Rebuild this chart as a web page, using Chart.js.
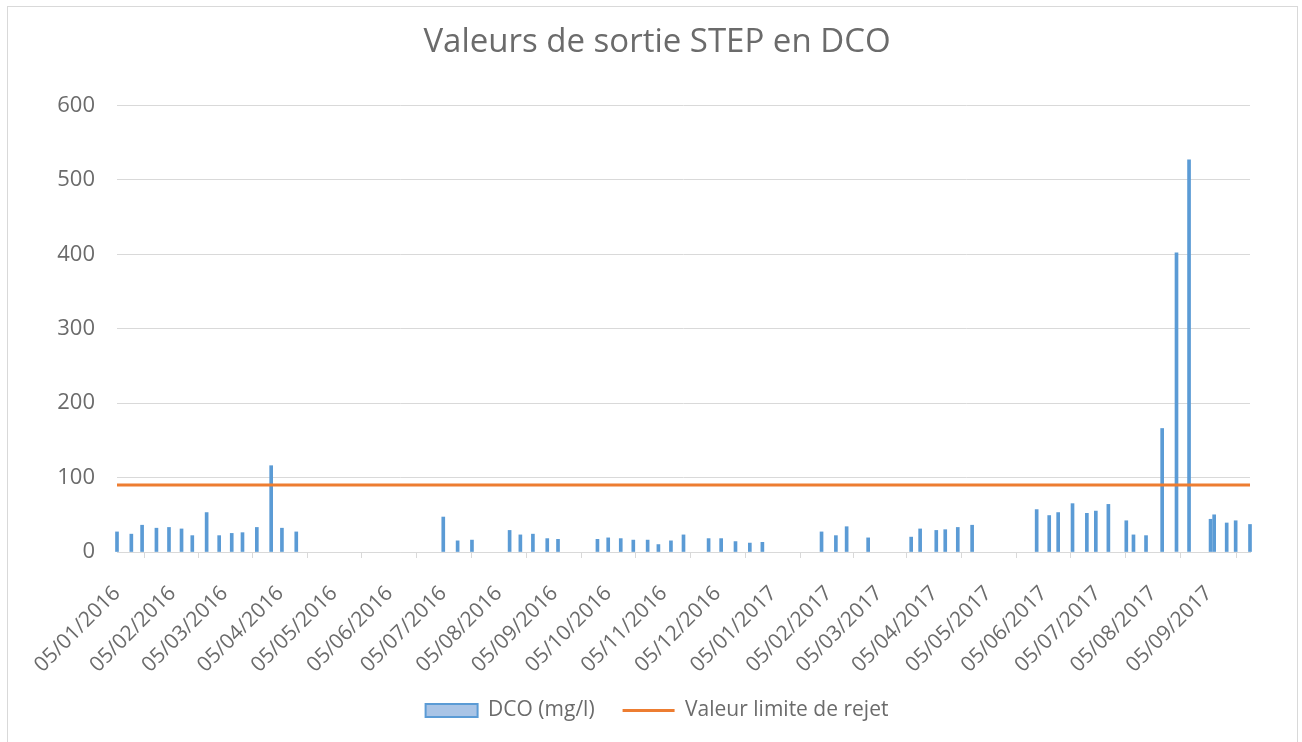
<!DOCTYPE html>
<html>
<head>
<meta charset="utf-8">
<script src="https://cdn.jsdelivr.net/npm/chart.js@4.4.1/dist/chart.umd.min.js"></script>
<style>
  body { margin: 0; background: #fff; }
  #cadre { position: absolute; left: 7px; top: 6px; width: 1291px; height: 745px; border: 1px solid #D9D9D9; box-sizing: border-box; }
  #wrap { position: absolute; left: 0; top: 0; width: 1302px; height: 742px; }
</style>
</head>
<body>
<div id="cadre"></div>
<div id="wrap"><canvas id="dco" width="1302" height="742"></canvas></div>
<script>
// dates des prélèvements (jj/mm/aaaa)
const datesPrelevement = [
  '05/01/2016','13/01/2016','19/01/2016','27/01/2016','03/02/2016','10/02/2016','16/02/2016','24/02/2016',
  '02/03/2016','09/03/2016','15/03/2016','23/03/2016','31/03/2016','06/04/2016','14/04/2016',
  '05/07/2016','13/07/2016','21/07/2016','11/08/2016','17/08/2016','24/08/2016','01/09/2016','07/09/2016',
  '29/09/2016','05/10/2016','12/10/2016','19/10/2016','27/10/2016','02/11/2016','09/11/2016','16/11/2016',
  '30/11/2016','07/12/2016','15/12/2016','23/12/2016','30/12/2016',
  '01/02/2017','09/02/2017','15/02/2017','27/02/2017','23/03/2017','28/03/2017','06/04/2017','11/04/2017',
  '18/04/2017','26/04/2017','01/06/2017','08/06/2017','13/06/2017','21/06/2017','29/06/2017','04/07/2017',
  '11/07/2017','21/07/2017','25/07/2017','01/08/2017','10/08/2017','18/08/2017','25/08/2017','06/09/2017',
  '08/09/2017','15/09/2017','20/09/2017','28/09/2017'
];
// DCO en mg/l
const valeursDCO = [
  27, 24, 36, 32, 33, 31, 22, 53,
  22, 25, 26, 33, 116, 32, 27,
  47, 15, 16, 29, 23, 24, 18, 17,
  17, 19, 18, 16, 16, 10, 15, 23,
  18, 18, 14, 12, 13,
  27, 22, 34, 19, 20, 31, 29, 30,
  33, 36, 57, 49, 53, 65, 52, 55,
  64, 42, 23, 22, 166, 402, 527, 44,
  50, 39, 42, 37
];
const valeurLimite = 90;
const etiquettesX = [
  '05/01/2016','05/02/2016','05/03/2016','05/04/2016','05/05/2016','05/06/2016','05/07/2016',
  '05/08/2016','05/09/2016','05/10/2016','05/11/2016','05/12/2016','05/01/2017','05/02/2017',
  '05/03/2017','05/04/2017','05/05/2017','05/06/2017','05/07/2017','05/08/2017','05/09/2017'
];
const etiquettesY = [0, 100, 200, 300, 400, 500, 600];

// nombre de jours depuis le premier prélèvement
function jours(txt) {
  const p = txt.split('/');
  return (Date.UTC(+p[2], +p[1] - 1, +p[0]) - Date.UTC(2016, 0, 5)) / 86400000;
}

const debut = jours(datesPrelevement[0]);
const fin = jours(datesPrelevement[datesPrelevement.length - 1]);
const gris = '#6B6B6B';
const grille = '#D9D9D9';

const ctx = document.getElementById('dco').getContext('2d');
new Chart(ctx, {
  type: 'bar',
  data: {
    datasets: [{
      label: 'DCO (mg/l)',
      data: datesPrelevement.map((d, i) => ({ x: jours(d), y: valeursDCO[i] })),
      backgroundColor: '#5B9BD5',
      barThickness: 3,
      order: 1,
      clip: false
    }, {
      type: 'line',
      label: 'Valeur limite de rejet',
      data: [{ x: debut, y: valeurLimite }, { x: fin, y: valeurLimite }],
      borderColor: '#ED7D31',
      borderWidth: 3,
      pointRadius: 0,
      order: 0
    }]
  },
  options: {
    responsive: false,
    animation: false,
    layout: { padding: { left: 12, right: 0, top: 0, bottom: 11 } },
    plugins: {
      title: {
        display: true,
        text: 'Valeurs de sortie STEP en DCO',
        color: gris,
        font: { family: 'Open Sans', size: 33, weight: 'normal' },
        padding: { top: 23, bottom: 43 }
      },
      legend: {
        position: 'bottom',
        labels: {
          color: gris,
          font: { family: 'Open Sans', size: 21 },
          usePointStyle: true,
          pointStyleWidth: 52,
          boxHeight: 13,
          padding: 28,
          generateLabels: function(chart) {
            return [{
              text: 'DCO (mg/l)', pointStyle: 'rect', fillStyle: '#A9C4E6',
              strokeStyle: '#5B9BD5', lineWidth: 2, fontColor: gris, datasetIndex: 0
            }, {
              text: 'Valeur limite de rejet', pointStyle: 'line', fillStyle: '#ED7D31',
              strokeStyle: '#ED7D31', lineWidth: 3, fontColor: gris, datasetIndex: 1
            }];
          }
        }
      },
      tooltip: { enabled: false }
    },
    scales: {
      x: {
        type: 'linear',
        offset: false,
        min: debut,
        max: fin,
        afterBuildTicks: function(scale) {
          scale.ticks = etiquettesX.map(t => ({ value: jours(t) }));
        },
        afterFit: function(scale) { scale.height = 120; },
        ticks: {
          autoSkip: false,
          minRotation: 45,
          maxRotation: 45,
          color: gris,
          font: { family: 'Open Sans', size: 21 },
          padding: 23,
          callback: (v, i) => etiquettesX[i]
        },
        grid: { drawOnChartArea: false, drawTicks: true, tickLength: 6, color: grille },
        border: { color: grille, width: 1 }
      },
      y: {
        min: 0,
        max: 600,
        afterBuildTicks: function(scale) {
          scale.ticks = etiquettesY.map(v => ({ value: v }));
        },
        afterFit: function(scale) { scale.width = 105; },
        ticks: {
          color: gris,
          font: { family: 'Open Sans', size: 22 },
          padding: 22
        },
        grid: { color: grille, drawTicks: false },
        border: { display: false }
      },
      marge: {
        position: 'right',
        afterFit: function(scale) { scale.width = 52; },
        ticks: { display: false },
        grid: { display: false },
        border: { display: false }
      }
    }
  }
});
</script>
</body>
</html>
